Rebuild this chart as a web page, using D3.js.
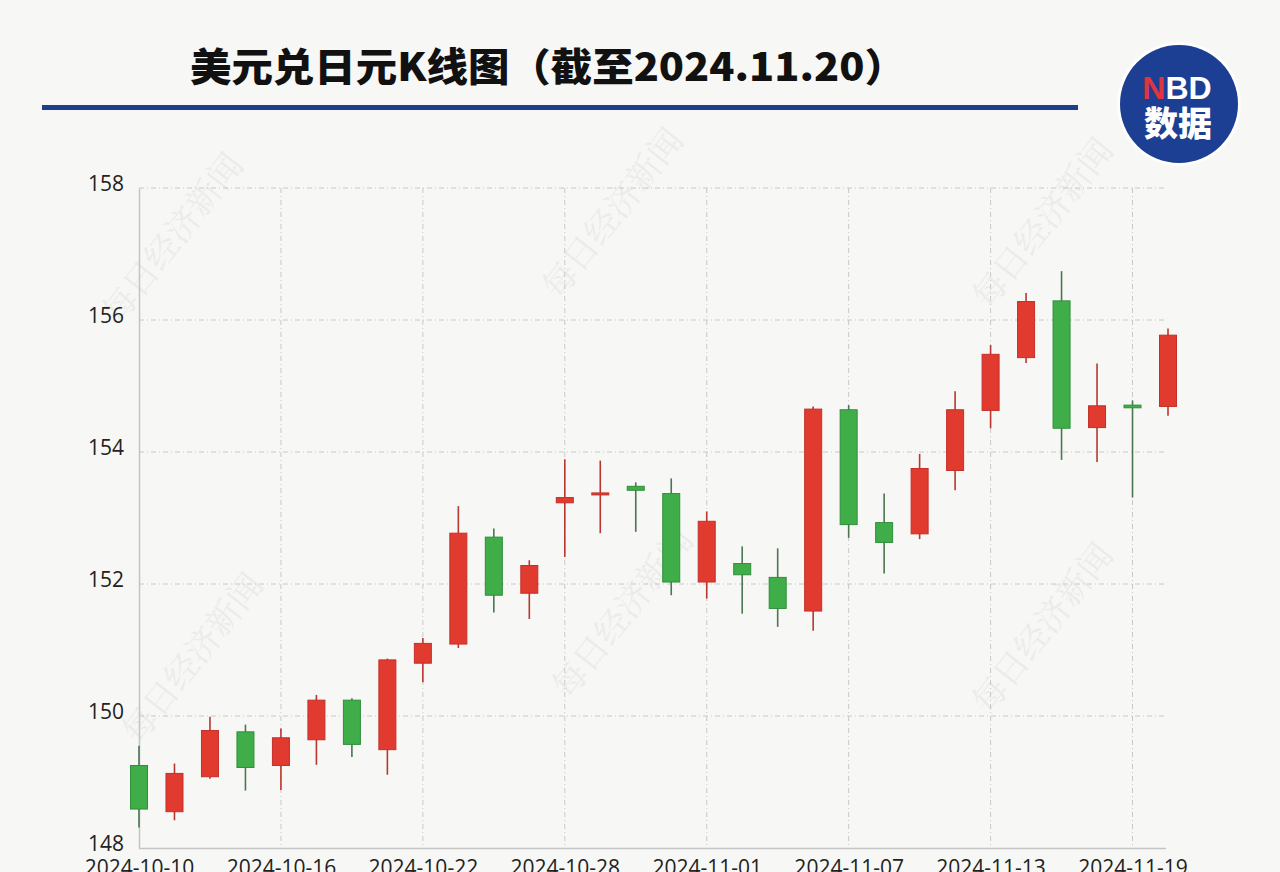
<!DOCTYPE html>
<html lang="zh-CN">
<head>
<meta charset="UTF-8">
<title>美元兑日元K线图</title>
<script src="https://cdn.jsdelivr.net/npm/d3@7"></script>
<style>
  html, body { margin: 0; padding: 0; background: #f7f7f5; }
  svg { display: block; }
  .tick text { font-family: 'Open Sans', 'Noto Sans', sans-serif; fill: #222; }
</style>
</head>
<body>
<script>
// trading days
var dates = ["2024-10-10","2024-10-11","2024-10-14","2024-10-15","2024-10-16","2024-10-17","2024-10-18",
  "2024-10-21","2024-10-22","2024-10-23","2024-10-24","2024-10-25","2024-10-28","2024-10-29","2024-10-30",
  "2024-10-31","2024-11-01","2024-11-04","2024-11-05","2024-11-06","2024-11-07","2024-11-08","2024-11-11",
  "2024-11-12","2024-11-13","2024-11-14","2024-11-15","2024-11-18","2024-11-19","2024-11-20"];
var open  = [149.25,148.55,149.08,149.76,149.25,149.64,150.24,149.49,150.80,151.09,152.71,151.86,153.23,153.35,153.48,
  153.37,152.03,152.31,152.10,151.59,154.64,152.93,152.76,153.72,154.63,155.43,156.29,154.37,154.71,154.69];
var close = [148.59,149.13,149.78,149.22,149.67,150.24,149.57,150.85,151.10,152.77,151.83,152.28,153.31,153.38,153.42,
  152.03,152.95,152.14,151.63,154.65,152.90,152.63,153.75,154.64,155.48,156.28,154.36,154.70,154.67,155.77];
var high  = [149.55,149.28,149.99,149.87,149.81,150.32,150.27,150.87,151.18,153.18,152.84,152.36,153.89,153.87,153.54,
  153.60,153.10,152.57,152.54,154.69,154.71,153.37,153.97,154.92,155.62,156.41,156.74,155.34,154.78,155.87];
var low   = [148.31,148.42,149.05,148.87,148.88,149.26,149.38,149.11,150.51,151.03,151.57,151.47,152.41,152.77,152.79,
  151.83,151.78,151.55,151.35,151.29,152.70,152.16,152.68,153.42,154.36,155.35,153.88,153.85,153.31,154.55];
var yTicks = [148, 150, 152, 154, 156, 158];
var xTicks = ["2024-10-10","2024-10-16","2024-10-22","2024-10-28","2024-11-01","2024-11-07","2024-11-13","2024-11-19"];

var width = 1280, height = 872;
var svg = d3.select("body").append("svg").attr("width", width).attr("height", height);

svg.append("rect").attr("width", width).attr("height", height).attr("fill", "#f7f7f5");

var x = d3.scalePoint().domain(dates).range([139, 1168]);
var y = d3.scaleLinear().domain([148, 158]).range([848, 188]);
var plotRight = 1166;

// watermarks
var marks = [[175, 240], [615, 215], [1045, 225], [195, 660], [625, 615], [1045, 630]];
svg.append("g").selectAll("text").data(marks).join("text")
  .attr("transform", d => "translate(" + d[0] + "," + d[1] + ") rotate(-52)")
  .attr("text-anchor", "middle")
  .attr("dominant-baseline", "middle")
  .style("font-family", "'Noto Serif CJK SC', 'Noto Sans CJK SC', serif")
  .style("font-size", "34px")
  .attr("fill", "#000")
  .attr("opacity", 0.045)
  .text("每日经济新闻");

// title
svg.append("text")
  .attr("x", 190).attr("y", 81)
  .attr("textLength", 716).attr("lengthAdjust", "spacingAndGlyphs")
  .style("font-family", "'Noto Sans CJK SC', sans-serif")
  .style("font-weight", 900)
  .style("font-size", "39px")
  .attr("fill", "#111")
  .text("美元兑日元K线图（截至2024.11.20）");

svg.append("rect").attr("x", 42).attr("y", 105).attr("width", 1036).attr("height", 5).attr("fill", "#1d3e8c");

// logo
var logo = svg.append("g");
logo.append("circle").attr("cx", 1179).attr("cy", 104).attr("r", 62).attr("fill", "#fff").attr("opacity", 0.8);
logo.append("circle").attr("cx", 1179).attr("cy", 104).attr("r", 59).attr("fill", "#1c3f93");
var nbd = logo.append("text").attr("x", 1177).attr("y", 99).attr("text-anchor", "middle")
  .style("font-family", "'Liberation Sans', Arial, sans-serif").style("font-weight", "bold").style("font-size", "32px");
nbd.append("tspan").attr("fill", "#e0343f").text("N");
nbd.append("tspan").attr("fill", "#fff").text("BD");
logo.append("text").attr("x", 1178).attr("y", 136).attr("text-anchor", "middle")
  .style("font-family", "'Noto Sans CJK SC', sans-serif").style("font-weight", 900).style("font-size", "34px")
  .attr("fill", "#fff").text("数据");

// grid
svg.append("g").selectAll("line").data(yTicks.slice(1)).join("line")
  .attr("x1", 139).attr("x2", plotRight)
  .attr("y1", d => y(d)).attr("y2", d => y(d))
  .attr("stroke", "#c8c8c8").attr("stroke-width", 1).attr("stroke-dasharray", "5,3,1,3");
svg.append("g").selectAll("line").data(xTicks.slice(1)).join("line")
  .attr("x1", d => x(d)).attr("x2", d => x(d))
  .attr("y1", y(158)).attr("y2", y(148))
  .attr("stroke", "#c8c8c8").attr("stroke-width", 1).attr("stroke-dasharray", "5,3,1,3");

// axes
var yAxis = svg.append("g").attr("transform", "translate(139,0)")
  .call(d3.axisLeft(y).tickValues(yTicks).tickSize(0).tickPadding(15));
yAxis.select(".domain").attr("stroke", "#c4c4c4").attr("stroke-width", 1.5);
yAxis.selectAll("text").style("font-size", "21px").attr("dy", "0.1em");

var xAxis = svg.append("g").attr("transform", "translate(0,848)")
  .call(d3.axisBottom(x).tickValues(xTicks).tickSize(0).tickPadding(11));
xAxis.select(".domain").attr("d", "M139,0.5H" + plotRight).attr("stroke", "#c4c4c4").attr("stroke-width", 1.5);
xAxis.selectAll("text").style("font-size", "21px").attr("dy", "0.75em");

// candles
var candles = dates.map((d, i) => ({ date: d, o: open[i], c: close[i], h: high[i], l: low[i] }));
var up = d => d.c >= d.o;
var bw = 17;
var g = svg.append("g").selectAll("g").data(candles).join("g");
g.append("line")
  .attr("x1", d => x(d.date)).attr("x2", d => x(d.date))
  .attr("y1", d => y(d.h)).attr("y2", d => y(d.l))
  .attr("stroke", d => up(d) ? "#b8372e" : "#4b7650").attr("stroke-width", 1.6);
g.append("rect")
  .attr("x", d => x(d.date) - bw / 2)
  .attr("width", bw)
  .attr("y", d => y(Math.max(d.o, d.c)))
  .attr("height", d => Math.max(2, Math.abs(y(d.o) - y(d.c))))
  .attr("fill", d => up(d) ? "#e13a2f" : "#3fae48")
  .attr("stroke", d => up(d) ? "#c4302a" : "#2f8e3c")
  .attr("stroke-width", 1);
</script>
</body>
</html>
